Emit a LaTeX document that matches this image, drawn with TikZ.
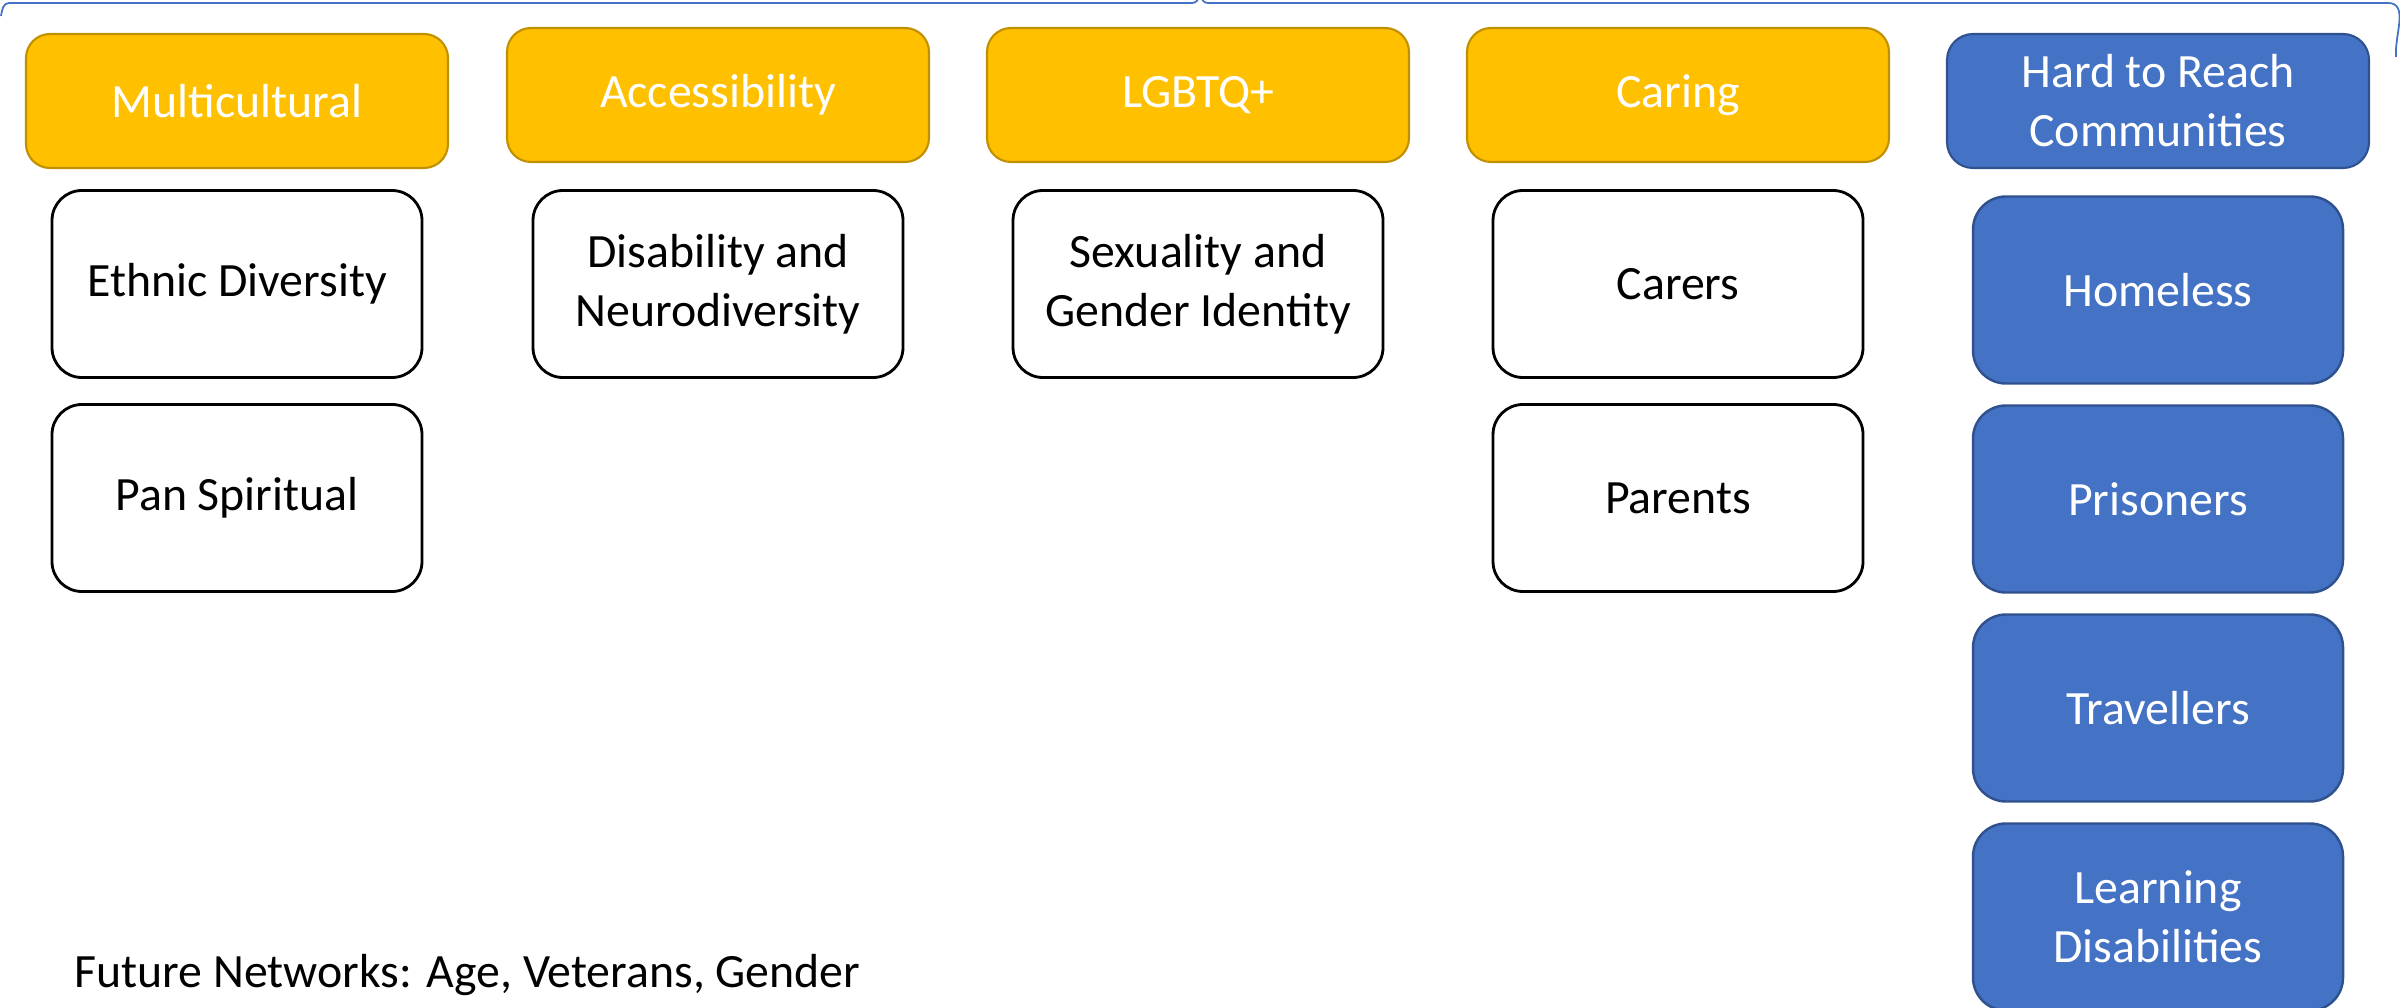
\documentclass[tikz,border=0pt]{standalone}
\usepackage{fontspec}
\setmainfont{Carlito}
\definecolor{headgold}{HTML}{FFC000}
\definecolor{headgoldline}{HTML}{BF9000}
\definecolor{reachblue}{HTML}{4472C4}
\definecolor{reachblueline}{HTML}{2F528F}

\begin{document}
\begin{tikzpicture}[
txt/.style={font=\fontsize{13.6}{16.8}\selectfont, align=center},
group-head/.style={rectangle, rounded corners=0.24cm, txt, text=white,
    fill=headgold, draw=headgoldline, line width=0.6pt,
    minimum width=4.22cm, minimum height=1.34cm},
reach-head/.style={group-head, fill=reachblue, draw=reachblueline,
    rounded corners=0.26cm},
group-item/.style={rectangle, rounded corners=0.3cm, txt, draw=black,
    line width=0.8pt, minimum width=3.7cm, minimum height=1.87cm,
    node distance=2.14cm},
reach-item/.style={group-item, text=white, fill=reachblue, draw=reachblueline,
    line width=0.7pt, rounded corners=0.33cm, node distance=2.09cm},
brace/.style={draw=reachblue, line width=0.5pt}
]
\useasboundingbox (0,0) rectangle (24,-10.08);

\begin{scope}
\clip (0,0) rectangle (24,-10.08);
\path [brace] (0.01,-0.16) to [out=80, in=180] (0.09,-0.03) -- (11.92,-0.03)
    to [out=0, in=-90] (12,0.15) to [out=-90, in=180] (12.08,-0.03)
    -- (23.88,-0.03) to [out=0, in=95] (23.96,-0.57);
\end{scope}

\node [group-head] (mc-head) at (2.37,-1.01) {Multicultural};
\node [group-item, node distance=1.83cm, below of=mc-head] (mc-ethnic) {Ethnic Diversity};
\node [group-item, below of=mc-ethnic] (mc-spiritual) {Pan Spiritual};

\node [group-head] (acc-head) at (7.18,-0.95) {Accessibility};
\node [group-item, node distance=1.89cm, below of=acc-head] (acc-disab) {Disability and\\Neurodiversity};

\node [group-head] (lgbt-head) at (11.98,-0.95) {LGBTQ+};
\node [group-item, node distance=1.89cm, below of=lgbt-head] (lgbt-identity) {Sexuality and\\Gender Identity};

\node [group-head] (care-head) at (16.78,-0.95) {Caring};
\node [group-item, node distance=1.89cm, below of=care-head] (care-carers) {Carers};
\node [group-item, below of=care-carers] (care-parents) {Parents};

\node [reach-head] (htr-head) at (21.58,-1.01) {Hard to Reach\\Communities};
\node [reach-item, node distance=1.89cm, below of=htr-head] (htr-homeless) {Homeless};
\node [reach-item, below of=htr-homeless] (htr-prison) {Prisoners};
\node [reach-item, below of=htr-prison] (htr-travel) {Travellers};
\node [reach-item, below of=htr-travel] (htr-learning) {Learning\\Disabilities};

\node [txt, anchor=base west, inner sep=0pt] (future) at (0.74,-9.87)
    {Future Networks: Age, Veterans, Gender};

\end{tikzpicture}
\end{document}
